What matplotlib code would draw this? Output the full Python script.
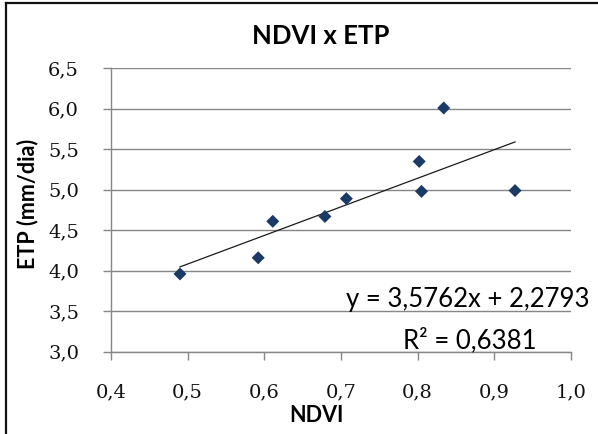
import numpy as np
import matplotlib.pyplot as plt
from matplotlib.lines import Line2D
from matplotlib.ticker import FuncFormatter, MultipleLocator

# NDVI x ETP data points
ndvi = [0.490, 0.592, 0.611, 0.679, 0.707, 0.802, 0.805, 0.834, 0.927]
etp = [3.96, 4.16, 4.61, 4.67, 4.89, 5.35, 4.98, 6.01, 4.99]

eq_text = "y = 3,5762x + 2,2793"
r2_text = "R\u00b2 = 0,6381"

W, H = 598, 434
fig = plt.figure(figsize=(W / 100, H / 100), dpi=100)
ax = fig.add_axes([111 / W, 1 - 351.7 / H, (571 - 111) / W, (351.7 - 68.3) / H])

grey = '#868686'
navy = '#1b3a66'

# linear trend line over the data range
coef = np.polyfit(ndvi, etp, 1)
xs = np.array([min(ndvi), max(ndvi)])
ax.plot(xs, np.polyval(coef, xs), color='#1a1a1a', lw=0.9, zorder=2)
ax.scatter(ndvi, etp, marker='D', s=44, color=navy, edgecolors='none', zorder=3)

ax.set_xlim(0.4, 1.0)
ax.set_ylim(3.0, 6.5)
ax.xaxis.set_major_locator(MultipleLocator(0.1))
ax.yaxis.set_major_locator(MultipleLocator(0.5))
comma = FuncFormatter(lambda v, p: ('%.1f' % v).replace('.', ','))
ax.xaxis.set_major_formatter(comma)
ax.yaxis.set_major_formatter(comma)

ax.grid(axis='y', color=grey, lw=1)
ax.set_axisbelow(True)
for s in ['top', 'right']:
    ax.spines[s].set_visible(False)
for s in ['left', 'bottom']:
    ax.spines[s].set_color(grey)
    ax.spines[s].set_linewidth(1)
ax.tick_params(direction='out', length=6, width=1, color=grey, pad=17,
               labelsize=14, labelcolor='#111111')
for lab in ax.get_xticklabels() + ax.get_yticklabels():
    lab.set_family('DejaVu Serif')

fig.text(321 / W, 1 - 36 / H, "NDVI x ETP", ha='center', va='center',
         family='Lato', weight='bold', fontsize=18.5)
fig.text(28 / W, 1 - 204 / H, "ETP (mm/dia)", ha='center', va='center',
         rotation=90, family='Lato', weight='bold', fontsize=15.5)
fig.text(316 / W, 1 - 415 / H, "NDVI", ha='center', va='center',
         family='Lato', weight='bold', fontsize=15.5)

fig.text(590 / W, 1 - 300 / H, eq_text, ha='right', va='center',
         family='Lato', fontsize=18.5)
fig.text(470 / W, 1 - 340 / H, r2_text, ha='center', va='center',
         family='Lato', fontsize=18.5)

# frame lines on the left and top edges
fig.add_artist(Line2D([6 / W, 6 / W], [0, 1 - 3 / H], color='#111111', lw=1.6))
fig.add_artist(Line2D([6 / W, 1], [1 - 3 / H, 1 - 3 / H], color='#111111', lw=1.6))

fig.savefig('out.png', dpi=100)
